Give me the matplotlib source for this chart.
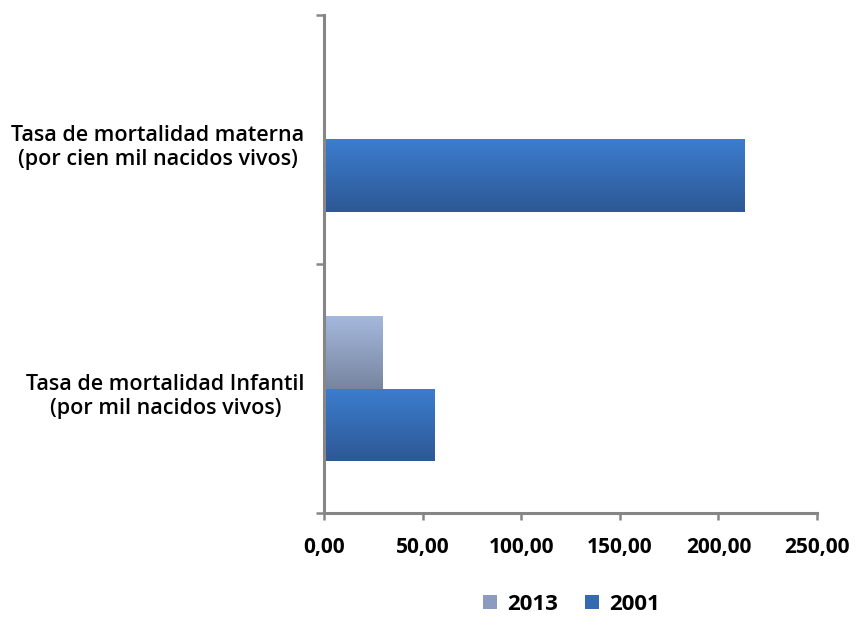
import matplotlib.pyplot as plt
import numpy as np
from matplotlib.colors import LinearSegmentedColormap
from matplotlib.patches import Patch

plt.rcParams['font.family'] = ['Open Sans', 'DejaVu Sans']
plt.rcParams['font.weight'] = 'semibold'

categories = ['Tasa de mortalidad Infantil\n(por mil nacidos vivos)',
              'Tasa de mortalidad materna\n(por cien mil nacidos vivos)']
years = ['2013', '2001']
vals_2013 = [29.6, 0.0]
vals_2001 = [56.1, 213.0]
x_ticks = [0, 50, 100, 150, 200, 250]

# top/bottom colours of the gradient fill for each series
grad_2013 = ('#a5b8dd', '#77859f')
grad_2001 = ('#3c7dcf', '#2d5894')

fig = plt.figure(figsize=(8.56, 6.19), dpi=100)
ax = fig.add_axes([0.3785, 0.1712, 0.576, 0.8046])

h = 0.29
y = np.arange(len(categories))


def gradient_bars(ys, vals, colors):
    cmap = LinearSegmentedColormap.from_list('g', [colors[1], colors[0]])
    bars = ax.barh(ys, vals, height=h, facecolor='none', edgecolor='none')
    grad = np.linspace(0, 1, 256).reshape(-1, 1)
    for b in bars:
        if b.get_width() <= 0:
            continue
        x0, y0 = b.get_x(), b.get_y()
        im = ax.imshow(grad, cmap=cmap, origin='lower', aspect='auto',
                       extent=(x0, x0 + b.get_width(), y0, y0 + b.get_height()),
                       interpolation='bilinear', zorder=2)
        im.set_clip_path(b)


gradient_bars(y + h / 2, vals_2013, grad_2013)
gradient_bars(y - h / 2, vals_2001, grad_2001)

ax.set_xlim(0, 250)
ax.set_ylim(-0.5, 1.5)

for s in ['top', 'right']:
    ax.spines[s].set_visible(False)
for s in ['left', 'bottom']:
    ax.spines[s].set_color('#868686')
    ax.spines[s].set_linewidth(2.2)

ax.set_xticks(x_ticks)
ax.set_xticklabels([f'{v:.2f}'.replace('.', ',') for v in x_ticks],
                   fontsize=15, fontweight='bold')
ax.tick_params(axis='x', length=5, width=1.8, color='#868686', pad=12)

# boundary ticks on the category axis, labels on the centres
ax.set_yticks([-0.5, 0.5, 1.5])
ax.set_yticklabels([])
ax.tick_params(axis='y', which='major', length=6, width=1.8, color='#868686')
ax.set_yticks(y - 0.015, minor=True)
ax.set_yticklabels(categories, minor=True, fontsize=15.5, linespacing=1.2)
ax.tick_params(axis='y', which='minor', length=0, pad=14)
for lab in ax.get_yticklabels(minor=True):
    lab.set_multialignment('center')

handles = [Patch(facecolor='#8c9cc0', edgecolor='none'),
           Patch(facecolor='#356ab3', edgecolor='none')]
fig.legend(handles, years, loc='center', bbox_to_anchor=(0.6676, 0.023),
           prop={'size': 16, 'weight': 'bold'}, ncol=2, frameon=False,
           handlelength=0.6, handleheight=0.6, borderpad=0.1,
           columnspacing=1.25, handletextpad=0.45)

fig.savefig('out.png', dpi=100)
